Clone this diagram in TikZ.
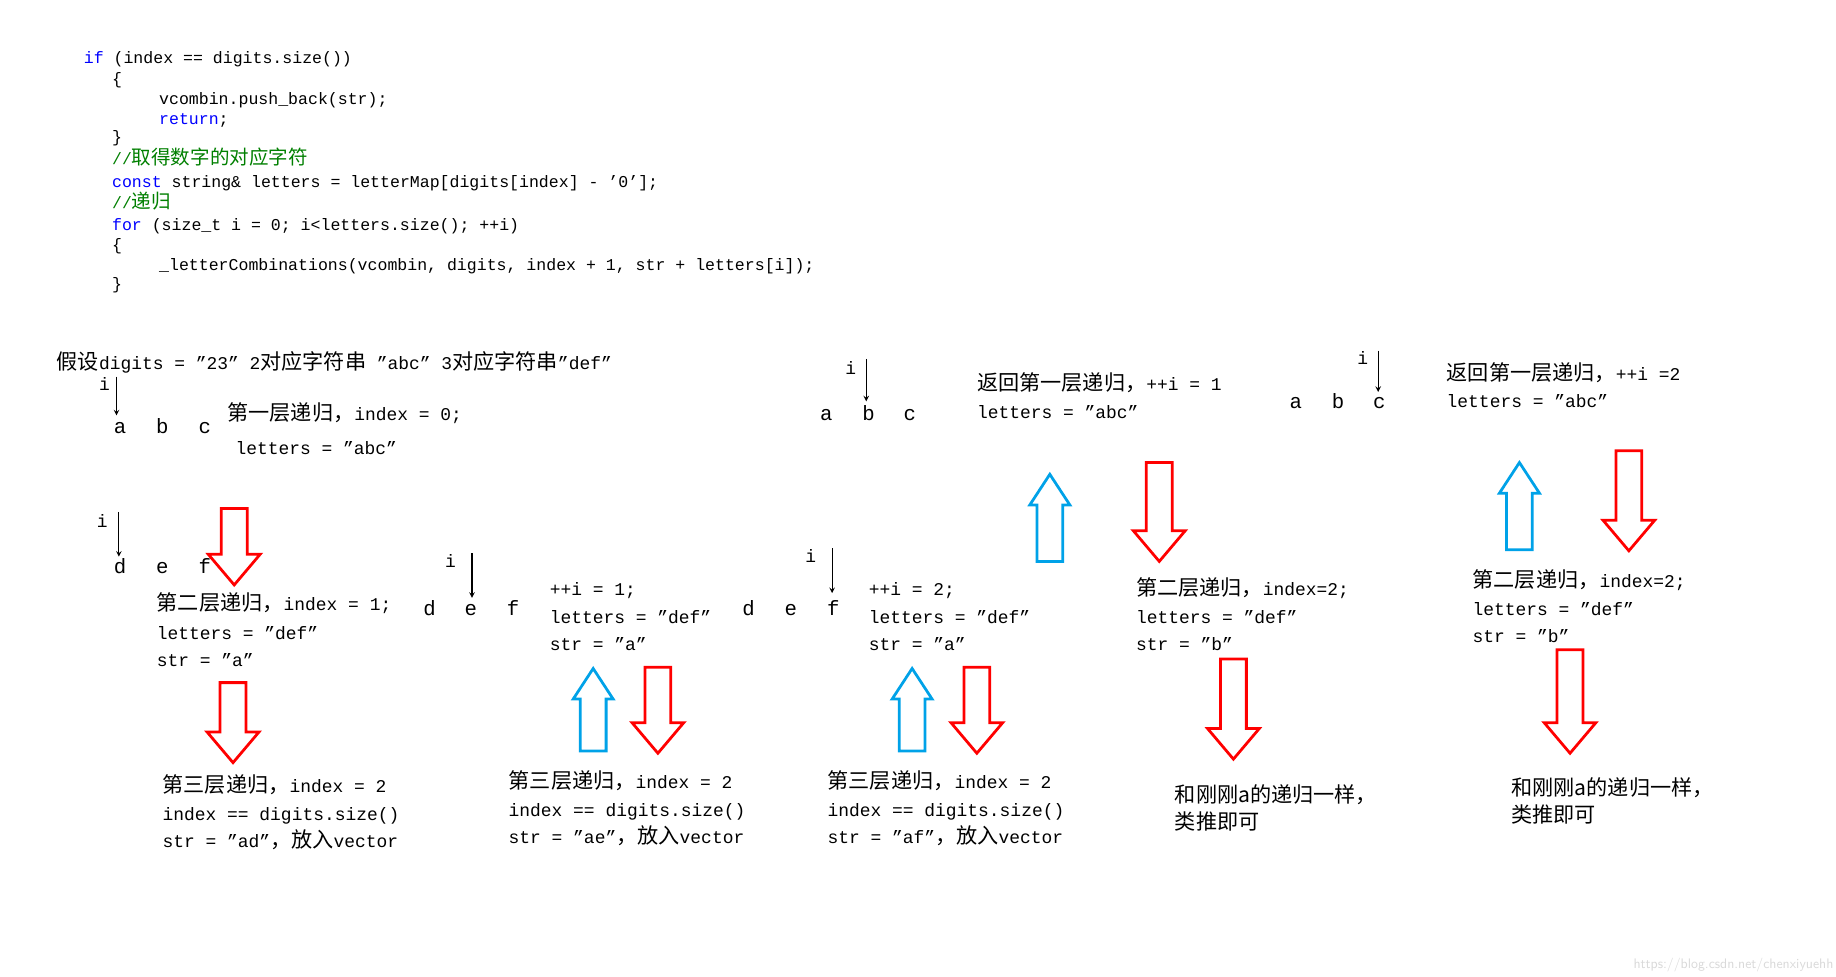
\documentclass[tikz,border=0pt]{standalone}
\usepackage{fontspec}
\setmainfont{Liberation Mono}
\newfontfamily\zh[Scale=1.18]{Noto Sans CJK SC}
\definecolor{kwblue}{RGB}{0,0,255}
\definecolor{cmgreen}{RGB}{0,128,0}
\definecolor{arrred}{RGB}{255,0,0}
\definecolor{arrblue}{RGB}{0,162,232}
\tikzset{
  code/.style={anchor=base west,inner sep=0pt,font=\fontsize{12pt}{14pt}\selectfont},
  note/.style={anchor=base west,inner sep=0pt,font=\fontsize{13pt}{15pt}\selectfont},
  letter/.style={anchor=base,inner sep=0pt,font=\fontsize{15pt}{17pt}\selectfont},
  ptr/.style={->,>=stealth,thick}
}
% hollow block arrows: x, tip-side start, tip
\newcommand{\downblock}[3]{\draw[arrred,line width=2pt,line join=miter]
  ({#1-11},#2) -- ({#1+11},#2) -- ({#1+11},{#3-26}) -- ({#1+22},{#3-26}) -- (#1,#3)
  -- ({#1-22},{#3-26}) -- ({#1-11},{#3-26}) -- cycle;}
\newcommand{\upblock}[3]{\draw[arrblue,line width=2pt,line join=miter]
  ({#1-11},#3) -- ({#1+11},#3) -- ({#1+11},{#2+26}) -- ({#1+17},{#2+26}) -- (#1,#2)
  -- ({#1-17},{#2+26}) -- ({#1-11},{#2+26}) -- cycle;}
\begin{document}
\begin{tikzpicture}[x=0.03cm,y=-0.03cm]
  \useasboundingbox[fill=white] (0,0) rectangle (1560,830);

  % code
  \node[code] (c1) at (71,54) {\textcolor{kwblue}{if} (index == digits.size())};
  \node[code] (c2) at (95,72) {\{};
  \node[code] (c3) at (135,89) {vcombin.push\_back(str);};
  \node[code] (c4) at (135,106) {\textcolor{kwblue}{return};};
  \node[code] (c5) at (95,121) {\}};
  \node[code] (c6) at (95,140) {\textcolor{cmgreen}{//\zh 取得数字的对应字符}};
  \node[code] (c7) at (95,159) {\textcolor{kwblue}{const} string\& letters = letterMap[digits[index] - '0'];};
  \node[code] (c8) at (95,177) {\textcolor{cmgreen}{//\zh 递归}};
  \node[code] (c9) at (95,196) {\textcolor{kwblue}{for} (size\_t i = 0; i<letters.size(); ++i)};
  \node[code] (c10) at (95,213) {\{};
  \node[code] (c11) at (135,230) {\_letterCombinations(vcombin, digits, index + 1, str + letters[i]);};
  \node[code] (c12) at (95,246) {\}};

  % first level
  \node[note] (assume) at (48,314) {{\zh 假设}digits = "23" 2{\zh 对应字符串} "abc" 3{\zh 对应字符串}"def"};
  \node[note] (i1) at (84,332) {i};
  \coordinate (p1) at (99,320); \coordinate (q1) at (99,353);
  \draw[ptr] (p1) -- (q1);
  \node[letter] (a1) at (102,368) {a};
  \node[letter] (b1) at (138,368) {b};
  \node[letter] (cc1) at (174,368) {c};
  \node[note] (l1a) at (193,357) {{\zh 第一层递归，}index = 0;};
  \node[note] (l1b) at (200,386) {letters = "abc"};

  % second level, str = a
  \node[note] (i2) at (82,448) {i};
  \coordinate (p2) at (101,435); \coordinate (q2) at (101,473);
  \draw[ptr] (p2) -- (q2);
  \node[letter] (d1) at (102,487) {d};
  \node[letter] (e1) at (138,487) {e};
  \node[letter] (f1) at (174,487) {f};
  \downblock{199}{432}{497}
  \node[note] (l2a) at (133,519) {{\zh 第二层递归，}index = 1;};
  \node[note] (l2b) at (133,543) {letters = "def"};
  \node[note] (l2c) at (133,566) {str = "a"};
  \downblock{198}{580}{648}
  \node[note] (l3a) at (138,673) {{\zh 第三层递归，}index = 2};
  \node[note] (l3b) at (138,697) {index == digits.size()};
  \node[note] (l3c) at (138,720) {str = "ad"{\zh ，放入}vector};

  % str = ae
  \node[note] (i3) at (378,482) {i};
  \coordinate (p3) at (401,470); \coordinate (q3) at (401,508);
  \draw[ptr] (p3) -- (q3);
  \node[letter] (d2) at (365,523) {d};
  \node[letter] (e2) at (400,523) {e};
  \node[letter] (f2) at (436,523) {f};
  \node[note] (m1a) at (467,506) {++i = 1;};
  \node[note] (m1b) at (467,530) {letters = "def"};
  \node[note] (m1c) at (467,553) {str = "a"};
  \upblock{504}{568}{638}
  \downblock{559}{567}{640}
  \node[note] (m2a) at (432,670) {{\zh 第三层递归，}index = 2};
  \node[note] (m2b) at (432,694) {index == digits.size()};
  \node[note] (m2c) at (432,717) {str = "ae"{\zh ，放入}vector};

  % str = af
  \node[note] (i4) at (684,478) {i};
  \coordinate (p4) at (707,466); \coordinate (q4) at (707,504);
  \draw[ptr] (p4) -- (q4);
  \node[letter] (d3) at (636,523) {d};
  \node[letter] (e3) at (672,523) {e};
  \node[letter] (f3) at (708,523) {f};
  \node[note] (n1a) at (738,506) {++i = 2;};
  \node[note] (n1b) at (738,530) {letters = "def"};
  \node[note] (n1c) at (738,553) {str = "a"};
  \upblock{775}{568}{638}
  \downblock{830}{567}{640}
  \node[note] (n2a) at (703,670) {{\zh 第三层递归，}index = 2};
  \node[note] (n2b) at (703,694) {index == digits.size()};
  \node[note] (n2c) at (703,717) {str = "af"{\zh ，放入}vector};

  % back to first level, i = 1
  \node[note] (i5) at (718,318) {i};
  \coordinate (p5) at (736,305); \coordinate (q5) at (736,341);
  \draw[ptr] (p5) -- (q5);
  \node[letter] (a2) at (702,357) {a};
  \node[letter] (b2) at (738,357) {b};
  \node[letter] (cc2) at (773,357) {c};
  \node[note] (r1a) at (830,332) {{\zh 返回第一层递归，}++i = 1};
  \node[note] (r1b) at (830,356) {letters = "abc"};
  \upblock{892}{403}{477}
  \downblock{985}{393}{477}
  \node[note] (r2a) at (965,506) {{\zh 第二层递归，}index=2;};
  \node[note] (r2b) at (965,530) {letters = "def"};
  \node[note] (r2c) at (965,553) {str = "b"};
  \downblock{1048}{560}{645}
  \node[note] (r3a) at (998,682) {\zh 和刚刚a的递归一样，};
  \node[note] (r3b) at (998,705) {\zh 类推即可};

  % back to first level, i = 2
  \node[note] (i6) at (1153,310) {i};
  \coordinate (p6) at (1171,298); \coordinate (q6) at (1171,333);
  \draw[ptr] (p6) -- (q6);
  \node[letter] (a3) at (1101,347) {a};
  \node[letter] (b3) at (1137,347) {b};
  \node[letter] (cc3) at (1172,347) {c};
  \node[note] (s1a) at (1229,323) {{\zh 返回第一层递归，}++i =2};
  \node[note] (s1b) at (1229,346) {letters = "abc"};
  \upblock{1291}{393}{467}
  \downblock{1384}{383}{468}
  \node[note] (s2a) at (1251,499) {{\zh 第二层递归，}index=2;};
  \node[note] (s2b) at (1251,523) {letters = "def"};
  \node[note] (s2c) at (1251,546) {str = "b"};
  \downblock{1334}{552}{640}
  \node[note] (s3a) at (1284,676) {\zh 和刚刚a的递归一样，};
  \node[note] (s3b) at (1284,699) {\zh 类推即可};

  \node[anchor=base east,inner sep=0pt,text=black!15,font=\sffamily\fontsize{10pt}{12pt}\selectfont] (wm) at (1558,823) {https://blog.csdn.net/chenxiyuehh};
\end{tikzpicture}
\end{document}
